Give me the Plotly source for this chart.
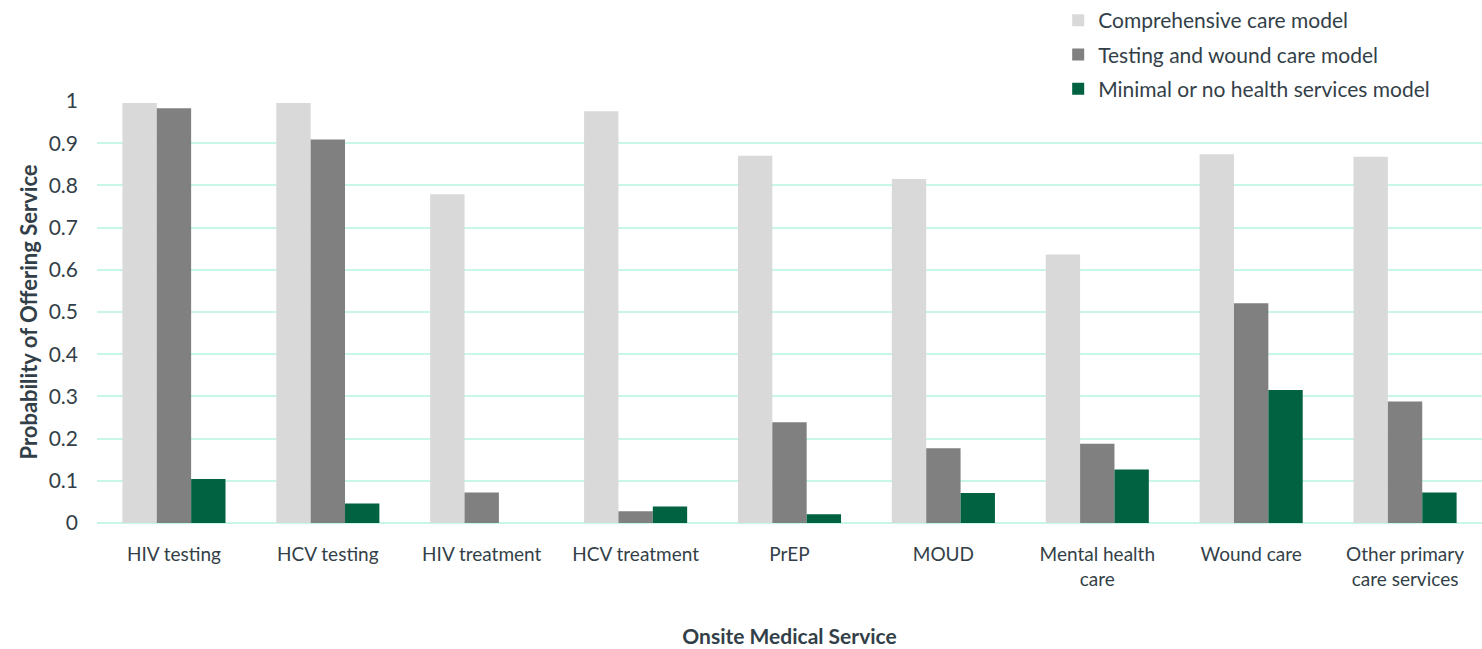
import plotly.graph_objects as go

categories = ["HIV testing", "HCV testing", "HIV treatment", "HCV treatment", "PrEP",
              "MOUD", "Mental health<br>care", "Wound care", "Other primary<br>care services"]
comprehensive = [0.995, 0.995, 0.779, 0.976, 0.870, 0.815, 0.636, 0.874, 0.868]
testing_wound = [0.983, 0.909, 0.072, 0.028, 0.239, 0.177, 0.188, 0.521, 0.288]
minimal = [0.104, 0.046, 0.0, 0.039, 0.021, 0.071, 0.127, 0.315, 0.072]

series_names = ["Comprehensive care model", "Testing and wound care model",
                "Minimal or no health services model"]
colors = ["#d9d9d9", "#808080", "#006241"]
y_ticks = [0, 0.1, 0.2, 0.3, 0.4, 0.5, 0.6, 0.7, 0.8, 0.9, 1]
y_tick_text = ["0", "0.1", "0.2", "0.3", "0.4", "0.5", "0.6", "0.7", "0.8", "0.9", "1"]

text_color = "#333f48"
font_family = "Lato, Open Sans, sans-serif"

fig = go.Figure()
for i, (name, vals) in enumerate(zip(series_names, [comprehensive, testing_wound, minimal])):
    fig.add_trace(go.Bar(
        x=categories, y=vals, name=name,
        marker=dict(color=colors[i], line=dict(width=0)),
        legendgroup=f"g{i}",
    ))

fig.update_layout(
    width=1482, height=649,
    barmode="group", bargap=0.33, bargroupgap=0,
    plot_bgcolor="white", paper_bgcolor="white",
    margin=dict(l=97, r=0, t=99, b=126),
    font=dict(family=font_family, size=19, color=text_color),
    legend=dict(
        x=0.694, xanchor="left", y=1.24, yanchor="top",
        font=dict(size=21, color=text_color),
        traceorder="grouped", tracegroupgap=4,
        bgcolor="rgba(0,0,0,0)",
    ),
    xaxis=dict(
        title=dict(text="<b>Onsite Medical Service</b>", font=dict(size=21, color=text_color), standoff=40),
        tickfont=dict(size=19, color=text_color),
        ticklabelstandoff=18,
        showgrid=False, showline=False, ticks="",
    ),
    yaxis=dict(
        title=dict(text="<b>Probability of Offering Service</b>", font=dict(size=22, color=text_color), standoff=4),
        range=[0, 1.0], tickvals=y_ticks, ticktext=y_tick_text,
        tickfont=dict(size=21, color=text_color),
        ticklabelstandoff=18,
        showgrid=True, gridcolor="#c9f7e6", gridwidth=2,
        zeroline=True, zerolinecolor="#c9f7e6", zerolinewidth=2,
        ticks="", ticklen=0,
    ),
)

fig.write_html("out.html")
